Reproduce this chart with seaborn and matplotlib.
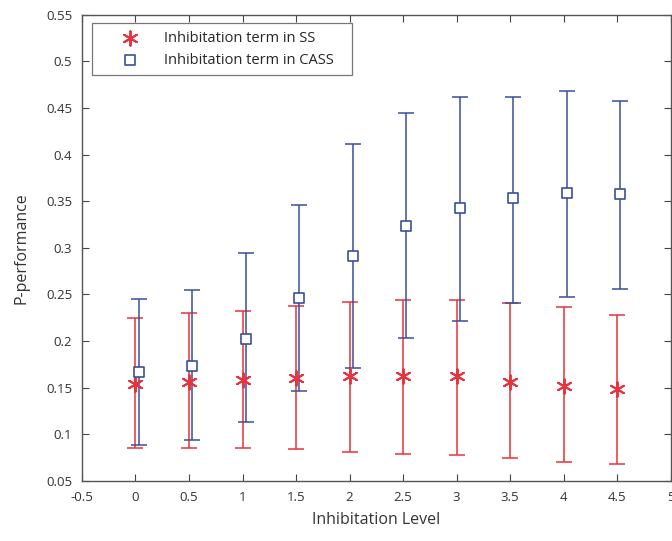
import matplotlib

matplotlib.use("Agg")

import matplotlib.pyplot as plt
import numpy as np
import pandas as pd
import seaborn as sns

# inhibition levels on the x axis
levels = [0, 0.5, 1, 1.5, 2, 2.5, 3, 3.5, 4, 4.5]

# inhibitation term in SS (red stars)
ss_mean = [0.154, 0.156, 0.158, 0.160, 0.162, 0.162, 0.162, 0.156, 0.152, 0.149]
ss_upper = [0.225, 0.230, 0.232, 0.238, 0.242, 0.244, 0.244, 0.241, 0.236, 0.228]
ss_lower = [0.085, 0.085, 0.085, 0.084, 0.081, 0.079, 0.078, 0.075, 0.070, 0.068]

# inhibitation term in CASS (blue squares)
cass_mean = [0.167, 0.173, 0.202, 0.246, 0.291, 0.323, 0.343, 0.353, 0.359, 0.358]
cass_upper = [0.245, 0.255, 0.294, 0.346, 0.411, 0.444, 0.462, 0.462, 0.468, 0.457]
cass_lower = [0.089, 0.094, 0.113, 0.146, 0.171, 0.203, 0.222, 0.241, 0.247, 0.256]

SS_LABEL = "Inhibitation term in SS"
CASS_LABEL = "Inhibitation term in CASS"
RED = "#e8323c"
BLUE = "#3a4f9a"
CASS_SHIFT = 0.03  # squares sit a hair to the right of the stars

sns.set_style("white")
plt.rcParams["font.family"] = ["Open Sans", "DejaVu Sans"]

ss_df = pd.DataFrame({"level": levels, "mean": ss_mean, "lo": ss_lower, "hi": ss_upper})
cass_df = pd.DataFrame({"level": np.array(levels) + CASS_SHIFT, "mean": cass_mean,
                        "lo": cass_lower, "hi": cass_upper})

fig = plt.figure(figsize=(6.72, 5.41), dpi=100)
ax = fig.add_axes([0.122, 0.111, 0.876, 0.862])

for sub, color in [(ss_df, RED), (cass_df, BLUE)]:
    ax.errorbar(
        sub["level"], sub["mean"],
        yerr=[sub["mean"] - sub["lo"], sub["hi"] - sub["mean"]],
        fmt="none", ecolor=color, elinewidth=1.3, capsize=5.5, capthick=1.3,
        alpha=0.85, zorder=2,
    )

sns.scatterplot(data=ss_df, x="level", y="mean", marker=(6, 2, 0), s=110,
                color=RED, linewidth=1.4, ax=ax, zorder=3, label=SS_LABEL)
sns.scatterplot(data=cass_df, x="level", y="mean", marker="s", s=55,
                facecolor="white", edgecolor=BLUE, linewidth=1.2, ax=ax,
                zorder=3, label=CASS_LABEL)

ax.set_xlim(-0.5, 5)
ax.set_ylim(0.05, 0.55)
ax.set_xticks(np.arange(-0.5, 5.01, 0.5))
ax.set_yticks(np.arange(0.05, 0.551, 0.05))
ax.set_xticklabels(["-0.5", "0", "0.5", "1", "1.5", "2", "2.5", "3", "3.5", "4", "4.5", "5"])
ax.set_yticklabels(["0.05", "0.1", "0.15", "0.2", "0.25", "0.3", "0.35", "0.4", "0.45", "0.5", "0.55"])
ax.tick_params(direction="in", length=5, width=0.8, colors="#444444",
               labelsize=9.5, labelcolor="#333333", top=True, right=True,
               bottom=True, left=True, pad=7)
for sp in ax.spines.values():
    sp.set_color("#555555")
    sp.set_linewidth(1.0)

ax.set_xlabel("Inhibitation Level", fontsize=11.5, color="#333333", labelpad=6)
ax.set_ylabel("P-performance", fontsize=11.5, color="#333333", labelpad=12)

leg = ax.legend(loc="upper left", bbox_to_anchor=(0.017, 0.869, 0.442, 0.112),
                mode="expand", borderaxespad=0, frameon=True, fancybox=False,
                edgecolor="#555555", fontsize=10.5, handletextpad=0.25,
                borderpad=0.5, labelspacing=0.5, handlelength=4.2)
leg.get_frame().set_linewidth(0.9)

fig.savefig("out.png", dpi=100)
